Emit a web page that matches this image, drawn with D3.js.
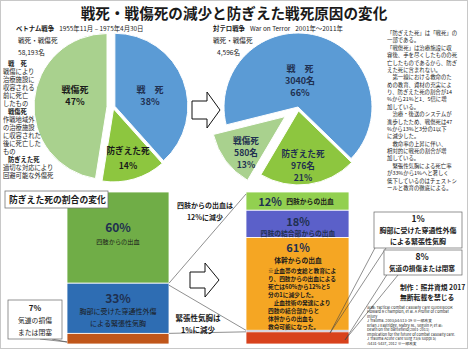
<!DOCTYPE html>
<html><head><meta charset="utf-8">
<script src="https://cdn.jsdelivr.net/npm/d3@7"></script>
<style>
body{margin:0;background:#fff}
svg{display:block}
text{font-family:"Noto Sans CJK JP","Noto Sans",sans-serif;fill:#1a1a1a}
</style>
</head><body>
<svg id="c" width="468" height="349"></svg>
<script>
// ---------------- data ----------------
const titleText = "戦死・戦傷死の減少と防ぎえた戦死原因の変化";
const pieCategories = ["戦　死", "防ぎえた死", "戦傷死"];
const vietnamPercents = [38, 14, 47];
const vietnamTotal = "58,193名";
const terrorCounts = [3040, 976, 580];
const terrorPercents = [66, 21, 13];
const terrorTotal = "4,596名";
const beforeCauses = ["四肢からの出血", "胸部に受けた穿通性外傷による緊張性気胸", "気道の損傷または閉塞"];
const beforeValues = [60, 33, 7];
const afterCauses = ["四肢からの出血", "四肢の結合部からの出血", "体幹からの出血", "緊張性気胸", "気道の損傷または閉塞"];
const afterValues = [12, 18, 61, 1, 8];

const leftNotes = [
  ["戦　死", true], ["戦傷により"], ["治療施設に"], ["収容される"], ["前に死亡"], ["したもの"],
  ["戦傷死", true], ["作戦地域外"], ["の治療施設"], ["に収容された"], ["後に死亡した"], ["もの"],
  ["防ぎえた死", true], ["適切な対応により"], ["回避可能な外傷死"]
];
const rightNotes = [
  "「防ぎえた死」は「戦死」の", "一部である。", "「戦傷死」は治療施設に収",
  "容後、手を尽くしたものの死", "亡したものであるから、防ぎ", "えた死に含まれない。",
  "　第一線における救命のた", "めの教育、資材の充実によ", "り、防ぎえた死の割合が14",
  "%から21%と1．5倍に増", "加している。", "　治療・後送のシステムが",
  "進歩したため、戦傷死は47", "%から13%と3分の1以下", "に減少した。",
  "　救命率の上昇に伴い、", "相対的に戦死の割合が増", "加している。",
  "　緊張性気胸による死亡率", "が33%から1%へと著しく", "低下しているのはチェストシ",
  "ールと教育の徹底による。"
];
const tourniquetNotes = [
  "※止血帯の支給と教育によ", "り、四肢からの出血による", "死亡は60%から12%と5",
  "分の1に減少した。", "　止血技術の発達により", "四肢の結合部からと",
  "体幹からの出血も", "救命可能になった。"
];
const sources = [
  "出典: Tactical Combat Casualty Care  GUIDEBOOK",
  "Howard R Champion, et al. A Profile of Combat",
  "Injury",
  "J Trauma. 2003;54:S13-19 ※一部改変",
  "Brian J Eastridge, Mabry RL, Seguin P, et al:",
  "Death on the battlefield(2001-2011)",
  "Implication for the future of combat casualty care.",
  "J Trauma Acute Care Surg 73(6 Suppl 5)",
  ":S431-S437, 2012 ※一部改変"
];

// ---------------- styles / layout ----------------
const pieColors = ["#5b9bd5", "#8dc63f", "#a9d18e"];
const beforeColors = ["#70ad47", "#2e6db3", "#c0561a"];
const afterColors = ["#92d050", "#5b60c9", "#f5a623", "#1f2a6b", "#d8421c"];
const navy = "#1f3050";

const svg = d3.select("#c");
svg.append("rect").attr("x",0.5).attr("y",0.5).attr("width",467).attr("height",348)
  .attr("fill","#fff").attr("stroke","#c8c8c8");

function txt(x, y, s, size, opts = {}) {
  const t = svg.append("text").attr("x", x).attr("y", y)
    .attr("font-size", size)
    .attr("font-weight", opts.bold ? "bold" : "normal")
    .attr("text-anchor", opts.anchor || "start")
    .attr("dominant-baseline", "central")
    .style("fill", opts.fill || "#1a1a1a")
    .text(s);
  return t;
}

// title
txt(234, 12.5, titleText, 14.6, {bold: true, anchor: "middle"});

// ---------------- pies ----------------
function drawPie(cx, cy, r, values, startDeg, explode) {
  const a0 = startDeg * Math.PI / 180;
  const arcs = d3.pie().sort(null).startAngle(a0).endAngle(a0 + 2 * Math.PI)(values);
  const arc = d3.arc().innerRadius(0).outerRadius(r);
  const g = svg.append("g").attr("transform", `translate(${cx},${cy})`);
  g.selectAll("path").data(arcs).join("path")
    .attr("d", arc)
    .attr("fill", (d, i) => pieColors[i])
    .attr("stroke", "#fff").attr("stroke-width", 1)
    .attr("transform", (d, i) => {
      const m = (d.startAngle + d.endAngle) / 2;
      return `translate(${Math.sin(m) * explode[i]},${-Math.cos(m) * explode[i]})`;
    });
  return arcs;
}

const pieR = 73;
drawPie(113, 107, pieR, vietnamPercents, 0, [2, 2, 6]);
drawPie(298, 107, pieR + 1, terrorCounts, -104, [0, 4, 16]);

// vietnam labels
txt(150, 89, pieCategories[0], 9, {bold: true, anchor: "middle", fill: navy});
txt(150, 101, vietnamPercents[0] + "%", 9, {bold: true, anchor: "middle", fill: navy});
txt(128, 150, pieCategories[1], 8.6, {bold: true, anchor: "middle"});
txt(128, 165, vietnamPercents[1] + "%", 8.6, {bold: true, anchor: "middle"});
txt(75, 89, pieCategories[2], 9, {bold: true, anchor: "middle"});
txt(75, 101, vietnamPercents[2] + "%", 9, {bold: true, anchor: "middle"});

// terror labels
txt(300, 68, pieCategories[0], 9, {bold: true, anchor: "middle", fill: navy});
txt(300, 80, terrorCounts[0] + "名", 9, {bold: true, anchor: "middle", fill: navy});
txt(300, 92, terrorPercents[0] + "%", 9, {bold: true, anchor: "middle", fill: navy});
txt(303, 153, pieCategories[1], 8.6, {bold: true, anchor: "middle", fill: navy});
txt(303, 165, terrorCounts[1] + "名", 8.6, {bold: true, anchor: "middle", fill: navy});
txt(303, 177, terrorPercents[1] + "%", 8.6, {bold: true, anchor: "middle", fill: navy});
txt(246, 140, pieCategories[2], 8.6, {bold: true, anchor: "middle", fill: navy});
txt(246, 152, terrorCounts[2] + "名", 8.6, {bold: true, anchor: "middle", fill: navy});
txt(246, 164, terrorPercents[2] + "%", 8.6, {bold: true, anchor: "middle", fill: navy});

// headers
const h1 = txt(16, 28, "", 6.4, {bold: true});
h1.append("tspan").text("ベトナム戦争");
h1.append("tspan").attr("font-weight", "normal").attr("dx", 5).text("1955年11月 – 1975年4月30日");
txt(18, 40, "戦死・戦傷死", 6.6);
txt(18, 52, vietnamTotal, 6.6);
const h2 = txt(213, 28, "", 6.4, {bold: true});
h2.append("tspan").text("対テロ戦争");
h2.append("tspan").attr("font-weight", "normal").attr("dx", 5).text("War on Terror");
h2.append("tspan").attr("font-weight", "normal").attr("dx", 5).text("2001年～2011年");
txt(213, 40, "戦死・戦傷死", 6.6);
txt(217, 52, terrorTotal, 6.6);

// left notes
leftNotes.forEach((n, i) => {
  txt(n[1] ? 8 : 3, 63 + i * 8, n[0], 6.3, {bold: !!n[1]});
});
// right notes
rightNotes.forEach((s, i) => {
  txt(387, 33 + i * 7.38, s, 5.4);
});

// arrows
function hollowArrow(x0, x1, xh, yc, hs, hh) {
  const pts = [[x0, yc - hs], [xh, yc - hs], [xh, yc - hh], [x1, yc], [xh, yc + hh], [xh, yc + hs], [x0, yc + hs]];
  svg.append("polygon").attr("points", pts.map(p => p.join(",")).join(" "))
    .attr("fill", "#fff").attr("stroke", "#111").attr("stroke-width", 1);
}
hollowArrow(192, 220, 207, 110, 9, 18);
hollowArrow(190, 219, 205, 280, 8, 17);

// ---------------- stacked bars ----------------
const yBar = d3.scaleLinear().domain([0, 100]).range([192, 344]);
function drawStack(x, w, values, colors) {
  const ends = d3.cumsum(values);
  const segs = values.map((v, i) => ({v, i, y0: ends[i] - v, y1: ends[i]}));
  svg.append("g").selectAll("rect").data(segs).join("rect")
    .attr("x", x).attr("width", w)
    .attr("y", d => yBar(d.y0)).attr("height", d => yBar(d.y1) - yBar(d.y0))
    .attr("fill", d => colors[d.i])
    .attr("stroke", "#fff").attr("stroke-width", 0.8);
  return segs;
}
const bx0 = 67, bw0 = 102, bx1 = 246, bw1 = 103;
const before = drawStack(bx0, bw0, beforeValues, beforeColors);
const after = drawStack(bx1, bw1, afterValues, afterColors);

// connector lines
const line = (x1, y1, x2, y2) => svg.append("line").attr("x1", x1).attr("y1", y1).attr("x2", x2).attr("y2", y2)
  .attr("stroke", "#444").attr("stroke-width", 0.6);
line(bx0 + bw0, yBar(before[0].y1), bx1, yBar(after[0].y0) + 2);
line(bx0 + bw0, yBar(before[1].y0) + 2, bx1, yBar(after[3].y0));
line(bx0 + bw0, yBar(before[1].y1), bx1, yBar(after[3].y1));

// before bar labels
const bcx = bx0 + bw0 / 2;
txt(bcx, 226, beforeValues[0] + "%", 12, {bold: true, anchor: "middle", fill: navy});
txt(bcx, 241, beforeCauses[0], 6.2, {anchor: "middle"});
txt(bcx, 297, beforeValues[1] + "%", 12, {bold: true, anchor: "middle", fill: navy});
txt(bcx, 311, "胸部に受けた穿通性外傷", 7, {anchor: "middle"});
txt(bcx, 323, "による緊張性気胸", 7, {anchor: "middle"});

// after bar labels
txt(270, 201, afterValues[0] + "%", 11, {bold: true, anchor: "middle", fill: navy});
txt(310, 201, afterCauses[0], 6.8, {bold: true, anchor: "middle"});
txt(298, 221, afterValues[1] + "%", 11, {bold: true, anchor: "middle", fill: navy});
txt(298, 233, afterCauses[1], 6.8, {bold: true, anchor: "middle", fill: navy});
txt(298, 247, afterValues[2] + "%", 11, {bold: true, anchor: "middle", fill: navy});
txt(298, 260, afterCauses[2], 6.8, {bold: true, anchor: "middle"});
tourniquetNotes.forEach((s, i) => txt(268, 270 + i * 8.1, s, 5.7, {bold: true}));

// middle texts
txt(205, 205, "四肢からの出血は", 7, {bold: true, anchor: "middle"});
txt(205, 217, "12%に減少", 7, {bold: true, anchor: "middle"});
txt(198, 317, "緊張性気胸は", 7.5, {bold: true, anchor: "middle"});
txt(198, 329, "1%に減少", 7.5, {bold: true, anchor: "middle"});

// section box
svg.append("rect").attr("x", 5).attr("y", 191).attr("width", 103).attr("height", 17)
  .attr("fill", "#fff").attr("stroke", "#777").attr("stroke-width", 0.8);
txt(9, 199.5, "防ぎえた死の割合の変化", 8.8, {bold: true});

// callouts
function callout(x, y, w, h, tail) {
  svg.append("path").attr("d", `M${tail[0][0]},${tail[0][1]} L${tail[1][0]},${tail[1][1]} L${tail[2][0]},${tail[2][1]}`)
    .attr("fill", "none").attr("stroke", "#444").attr("stroke-width", 0.6);
  svg.append("rect").attr("x", x).attr("y", y).attr("width", w).attr("height", h)
    .attr("fill", "#fff").attr("stroke", "#666").attr("stroke-width", 0.7);
}
callout(8, 300, 54, 39, [[40, 339], [67, 342], [52, 339]]);
txt(35, 307, beforeValues[2] + "%", 8, {bold: true, anchor: "middle"});
txt(35, 320, "気道の損傷", 6.8, {anchor: "middle"});
txt(35, 332, "または閉塞", 6.8, {anchor: "middle"});

callout(374, 212, 88, 36, [[376, 246], [330, 333], [386, 248]]);
txt(418, 218, afterValues[3] + "%", 8.5, {bold: true, anchor: "middle"});
txt(418, 230, "胸部に受けた穿通性外傷", 7, {bold: true, anchor: "middle"});
txt(418, 241, "による緊張性気胸", 7, {bold: true, anchor: "middle"});

callout(384, 250, 78, 25, [[388, 273], [345, 340], [398, 275]]);
txt(422, 256, afterValues[4] + "%", 8.5, {bold: true, anchor: "middle"});
txt(422, 268, afterCauses[4], 6.6, {bold: true, anchor: "middle"});

// credits
txt(400, 287, "制作：照井資規 2017", 6.8, {bold: true});
txt(400, 297, "無断転載を禁じる", 6.8, {bold: true});
sources.forEach((s, i) => txt(367, 307 + i * 4.5, s, 3.8));
</script>
</body></html>
